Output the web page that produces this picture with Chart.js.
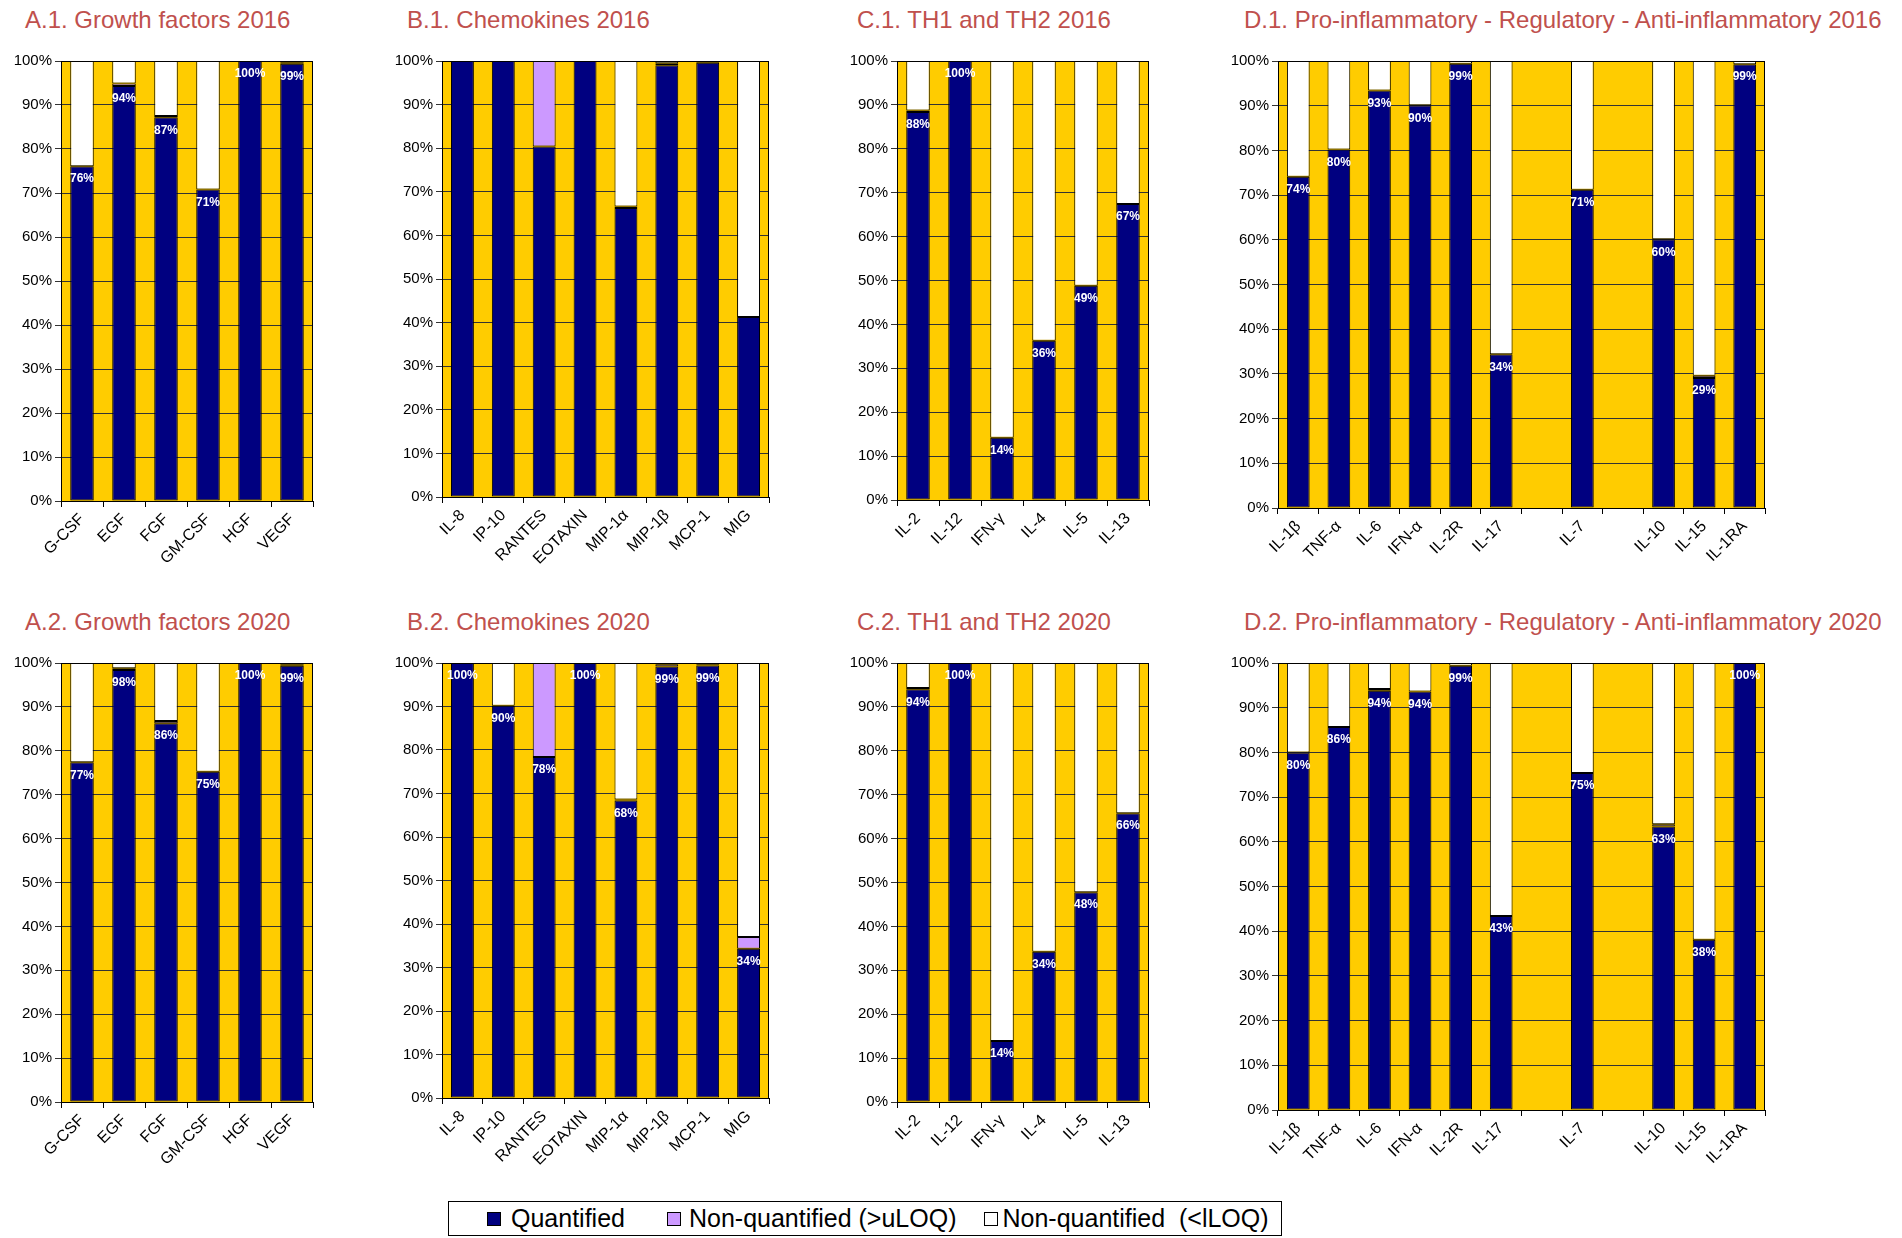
<!DOCTYPE html>
<html>
<head>
<meta charset="utf-8">
<title>Cytokine quantification 2016 / 2020</title>
<script src="https://cdn.jsdelivr.net/npm/chart.js@4.4.1/dist/chart.umd.min.js"></script>
<style>
  body { margin: 0; background: #fff; }
  #page {
    position: relative;
    width: 1902px;
    height: 1238px;
    overflow: hidden;
    font-family: Arial, "Liberation Sans", sans-serif;
  }
  .panel-title {
    position: absolute;
    font-size: 24px;
    line-height: 28px;
    color: #c0504d;
    white-space: nowrap;
  }
  canvas { position: absolute; }
  #legend {
    position: absolute;
    left: 448px;
    top: 1201px;
    width: 832px;
    height: 33px;
    border: 1.5px solid #000;
    background: #fff;
    display: flex;
    align-items: center;
    font-size: 25px;
    color: #000;
    white-space: pre;
  }
  .legend-item { display: flex; align-items: center; }
  .legend-box {
    width: 12px;
    height: 12px;
    border: 1px solid #000;
  }
</style>
</head>
<body>
<div id="page">
  <div id="legend"></div>
</div>
<script>
const NAVY = "#000080";
const VIOLET = "#cc99ff";
const WHITE = "#ffffff";
const YELLOW = "#ffcc00";

// categories
const growthLabels = ["G-CSF", "EGF", "FGF", "GM-CSF", "HGF", "VEGF"];
const chemokineLabels = ["IL-8", "IP-10", "RANTES", "EOTAXIN", "MIP-1α", "MIP-1β", "MCP-1", "MIG"];
const thLabels = ["IL-2", "IL-12", "IFN-γ", "IL-4", "IL-5", "IL-13"];
const inflammLabels = ["IL-1β", "TNF-α", "IL-6", "IFN-α", "IL-2R", "IL-17", "", "IL-7", "", "IL-10", "IL-15", "IL-1RA"];

// series (% of samples): quantified / non-quantified >uLOQ / non-quantified <lLOQ
const growth2016Quantified = [76.1, 94.3, 87.2, 70.8, 100, 99.4];
const growth2016Upper = [0, 0.6, 0.3, 0, 0, 0.2];
const growth2016Lower = [23.9, 5.1, 12.5, 29.2, 0, 0.4];

const growth2020Quantified = [77.4, 98.4, 86.3, 75.2, 100, 99.4];
const growth2020Upper = [0, 0.4, 0.5, 0, 0, 0.3];
const growth2020Lower = [22.6, 1.2, 13.2, 24.8, 0, 0.3];

const chemokine2016Quantified = [100, 100, 80.4, 100, 66.3, 99.0, 99.6, 41.3];
const chemokine2016Upper = [0, 0, 19.6, 0, 0.3, 0.5, 0.2, 0];
const chemokine2016Lower = [0, 0, 0, 0, 33.4, 0.5, 0.2, 58.7];

const chemokine2020Quantified = [100, 90.2, 78.4, 100, 68.4, 99.2, 99.4, 34.3];
const chemokine2020Upper = [0, 0, 21.6, 0, 0.2, 0.5, 0.3, 2.7];
const chemokine2020Lower = [0, 9.8, 0, 0, 31.4, 0.3, 0.3, 63.0];

const th2016Quantified = [88.4, 100, 14.2, 36.3, 48.8, 67.4];
const th2016Upper = [0.3, 0, 0, 0, 0, 0];
const th2016Lower = [11.3, 0, 85.8, 63.7, 51.2, 32.6];

const th2020Quantified = [94.0, 100, 13.9, 34.2, 47.8, 65.8];
const th2020Upper = [0.3, 0, 0, 0, 0, 0];
const th2020Lower = [5.7, 0, 86.1, 65.8, 52.2, 34.2];

const inflamm2016Quantified = [74.1, 80.2, 93.4, 90.1, 99.4, 34.4, null, 71.2, null, 60.1, 29.1, 99.3];
const inflamm2016Upper = [0, 0, 0, 0, 0, 0, null, 0, null, 0, 0.5, 0];
const inflamm2016Lower = [25.9, 19.8, 6.6, 9.9, 0.6, 65.6, null, 28.8, null, 39.9, 70.4, 0.7];

const inflamm2020Quantified = [80.0, 85.7, 93.8, 93.6, 99.4, 43.4, null, 75.4, null, 63.4, 38.1, 100];
const inflamm2020Upper = [0, 0, 0.4, 0, 0, 0, null, 0, null, 0.5, 0, 0];
const inflamm2020Lower = [20.0, 14.3, 5.8, 6.4, 0.6, 56.6, null, 24.6, null, 36.1, 61.9, 0];

const legendLabels = ["Quantified", "Non-quantified (>uLOQ)", "Non-quantified  (<lLOQ)"];

// layout of each panel on the page (plot area in px)
const panels = [
  { title: "A.1. Growth factors 2016", titleX: 25, titleY: 6, left: 61, right: 313, top: 61, bottom: 501,
    labels: growthLabels, q: growth2016Quantified, u: growth2016Upper, l: growth2016Lower, values: true },
  { title: "B.1. Chemokines 2016", titleX: 407, titleY: 6, left: 442, right: 769, top: 61, bottom: 497,
    labels: chemokineLabels, q: chemokine2016Quantified, u: chemokine2016Upper, l: chemokine2016Lower, values: false },
  { title: "C.1. TH1 and TH2 2016", titleX: 857, titleY: 6, left: 897, right: 1149, top: 61, bottom: 500,
    labels: thLabels, q: th2016Quantified, u: th2016Upper, l: th2016Lower, values: true },
  { title: "D.1. Pro-inflammatory - Regulatory - Anti-inflammatory 2016", titleX: 1244, titleY: 6, left: 1278, right: 1765, top: 61, bottom: 508,
    labels: inflammLabels, q: inflamm2016Quantified, u: inflamm2016Upper, l: inflamm2016Lower, values: true },
  { title: "A.2. Growth factors 2020", titleX: 25, titleY: 608, left: 61, right: 313, top: 663, bottom: 1102,
    labels: growthLabels, q: growth2020Quantified, u: growth2020Upper, l: growth2020Lower, values: true },
  { title: "B.2. Chemokines 2020", titleX: 407, titleY: 608, left: 442, right: 769, top: 663, bottom: 1098,
    labels: chemokineLabels, q: chemokine2020Quantified, u: chemokine2020Upper, l: chemokine2020Lower, values: true },
  { title: "C.2. TH1 and TH2 2020", titleX: 857, titleY: 608, left: 897, right: 1149, top: 663, bottom: 1102,
    labels: thLabels, q: th2020Quantified, u: th2020Upper, l: th2020Lower, values: true },
  { title: "D.2. Pro-inflammatory - Regulatory - Anti-inflammatory 2020", titleX: 1244, titleY: 608, left: 1278, right: 1765, top: 663, bottom: 1110,
    labels: inflammLabels, q: inflamm2020Quantified, u: inflamm2020Upper, l: inflamm2020Lower, values: true },
];

const Y_AXIS_W = 58;
const PAD_TOP = 12;
const PAD_RIGHT = 12;
const X_AXIS_H = 90;
const FONT = "Arial, 'Liberation Sans', sans-serif";

// yellow plot background, black frame and white % labels on the navy bars
const plotDecor = {
  id: "plotDecor",
  beforeDraw(chart) {
    const { ctx, chartArea: a } = chart;
    ctx.save();
    ctx.fillStyle = YELLOW;
    ctx.fillRect(a.left, a.top, a.right - a.left, a.bottom - a.top);
    ctx.restore();
  },
  afterDatasetsDraw(chart, args, opts) {
    const { ctx, chartArea: a } = chart;
    ctx.save();
    ctx.strokeStyle = "#000";
    ctx.lineWidth = 1;
    ctx.strokeRect(Math.round(a.left) + 0.5, Math.round(a.top) + 0.5,
      Math.round(a.right - a.left) - 1, Math.round(a.bottom - a.top));
    if (opts.values) {
      const meta = chart.getDatasetMeta(0);
      const data = chart.data.datasets[0].data;
      ctx.fillStyle = "#fff";
      ctx.font = "bold 12px " + FONT;
      ctx.textAlign = "center";
      ctx.textBaseline = "middle";
      meta.data.forEach((bar, i) => {
        if (data[i] === null) return;
        ctx.fillText(Math.round(data[i]) + "%", bar.x, bar.y + 13);
      });
    }
    ctx.restore();
  },
};

function makeDataset(label, data, color) {
  return {
    label: label,
    data: data,
    backgroundColor: color,
    borderColor: "#000",
    borderWidth: 1,
    borderSkipped: false,
    barPercentage: 0.56,
    categoryPercentage: 1.0,
  };
}

function renderPanel(p) {
  const page = document.getElementById("page");

  const title = document.createElement("div");
  title.className = "panel-title";
  title.style.left = p.titleX + "px";
  title.style.top = p.titleY + "px";
  title.textContent = p.title;
  page.appendChild(title);

  const canvas = document.createElement("canvas");
  const width = p.right - p.left + Y_AXIS_W + PAD_RIGHT;
  const height = p.bottom - p.top + PAD_TOP + X_AXIS_H;
  canvas.width = width;
  canvas.height = height;
  canvas.style.left = (p.left - Y_AXIS_W) + "px";
  canvas.style.top = (p.top - PAD_TOP) + "px";
  page.appendChild(canvas);

  new Chart(canvas, {
    type: "bar",
    data: {
      labels: p.labels,
      datasets: [
        makeDataset(legendLabels[0], p.q, NAVY),
        makeDataset(legendLabels[1], p.u, VIOLET),
        makeDataset(legendLabels[2], p.l, WHITE),
      ],
    },
    options: {
      responsive: false,
      animation: false,
      devicePixelRatio: 1,
      layout: { padding: { top: PAD_TOP, right: PAD_RIGHT, left: 0, bottom: 0 } },
      plugins: {
        legend: { display: false },
        tooltip: { enabled: false },
        plotDecor: { values: p.values },
      },
      scales: {
        x: {
          stacked: true,
          grid: { display: true, drawOnChartArea: false, drawTicks: true, tickLength: 6, color: "#000", offset: true },
          border: { display: true, color: "#000" },
          ticks: {
            autoSkip: false,
            maxRotation: 45,
            minRotation: 45,
            padding: 3,
            color: "#000",
            font: { family: FONT, size: 16 },
          },
          afterFit: (scale) => { scale.height = X_AXIS_H; },
        },
        y: {
          stacked: true,
          min: 0,
          max: 100,
          grid: { color: "#333", tickLength: 6 },
          border: { display: true, color: "#000" },
          ticks: {
            stepSize: 10,
            padding: 3,
            color: "#000",
            font: { family: FONT, size: 15 },
            callback: (value) => value + "%",
          },
          afterFit: (scale) => { scale.width = Y_AXIS_W; },
        },
      },
    },
    plugins: [plotDecor],
  });
}

function renderLegend() {
  const legend = document.getElementById("legend");
  const colors = [NAVY, VIOLET, WHITE];
  const gaps = [38, 42, 28];
  const boxGaps = [10, 8, 4];
  legendLabels.forEach((text, i) => {
    const item = document.createElement("div");
    item.className = "legend-item";
    item.style.marginLeft = gaps[i] + "px";
    const box = document.createElement("span");
    box.className = "legend-box";
    box.style.background = colors[i];
    box.style.marginRight = boxGaps[i] + "px";
    const label = document.createElement("span");
    label.textContent = text;
    item.appendChild(box);
    item.appendChild(label);
    legend.appendChild(item);
  });
}

panels.forEach(renderPanel);
renderLegend();
</script>
</body>
</html>
